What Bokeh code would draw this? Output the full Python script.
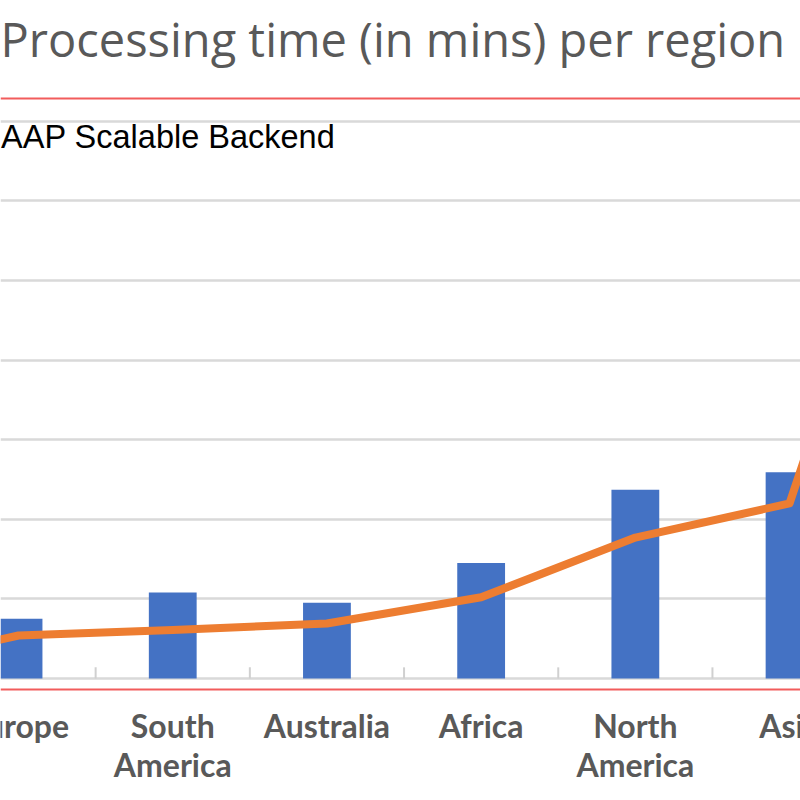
from bokeh.plotting import figure
from bokeh.models import Range1d, FixedTicker, Span, Label, ColumnDataSource
from bokeh.core.properties import value
from bokeh.embed import file_html
from bokeh.resources import INLINE

# ---- data ----
categories = ["Europe", "South\nAmerica", "Australia", "Africa", "North\nAmerica", "Asia"]
bar_values = [7.5, 10.8, 9.5, 14.5, 23.7, 25.9]
line_values = [5.4, 6.1, 6.9, 10.2, 17.7, 22.0]
# line values of the neighbouring categories that are cut off by the picture edges
line_before = 1.0
line_after = 80.0
grid_ticks = [0, 10, 20, 30, 40, 50, 60, 70]
title_text = "Processing time (in mins) per region"
legend_text = "AAP Scalable Backend"

# ---- layout ----
x_start, x_end = -0.117, 5.071
y_start, y_end = -15.33, 85.18

p = figure(width=800, height=800, output_backend="svg", toolbar_location=None,
           x_axis_location=None, y_axis_location=None, min_border=0,
           x_range=Range1d(x_start, x_end), y_range=Range1d(y_start, y_end))
p.outline_line_color = None
p.background_fill_color = "white"
p.border_fill_color = "white"

p.xgrid.visible = False
p.ygrid.ticker = FixedTicker(ticks=grid_ticks)
p.ygrid.grid_line_color = "#d9d9d9"
p.ygrid.grid_line_width = 2.5

n = len(categories)
xs = list(range(n))

# tick marks between categories, pointing up from the baseline
bx = [i + 0.5 for i in range(-1, n)]
p.segment(x0=bx, y0=[0] * len(bx), x1=bx, y1=[1.4] * len(bx),
          line_color="#d0d0d0", line_width=2)

# bars
p.vbar(x=xs, top=bar_values, width=0.31, bottom=0, fill_color="#4472C4", line_color=None)

# line
lx = [-1] + xs + [n]
ly = [line_before] + line_values + [line_after]
p.line(lx, ly, line_color="#ED7D31", line_width=8, line_join="round")

# red separator lines
p.add_layout(Span(location=72.86, dimension="width", line_color="#f25c5c", line_width=2))
p.add_layout(Span(location=-1.38, dimension="width", line_color="#f25c5c", line_width=2))

# category labels
src = ColumnDataSource(dict(x=xs, y=[-3.4] * n, t=categories))
p.text(x="x", y="y", text="t", source=src, text_align="center", text_baseline="top",
       text_font=value("Lato"), text_font_style="bold", text_font_size="32px",
       text_color="#595959", text_line_height=1.02)

# title
p.add_layout(Label(x=x_start, y=80.3, text=title_text, text_font="Open Sans",
                   text_font_size="47px", text_color="#595959", text_baseline="alphabetic"))
# legend-like text
p.add_layout(Label(x=x_start + 0.004, y=68.0, text=legend_text, text_font="Liberation Sans",
                   text_font_size="32.5px", text_color="#000000", text_baseline="alphabetic"))

open("out.html", "w").write(file_html(p, INLINE))
